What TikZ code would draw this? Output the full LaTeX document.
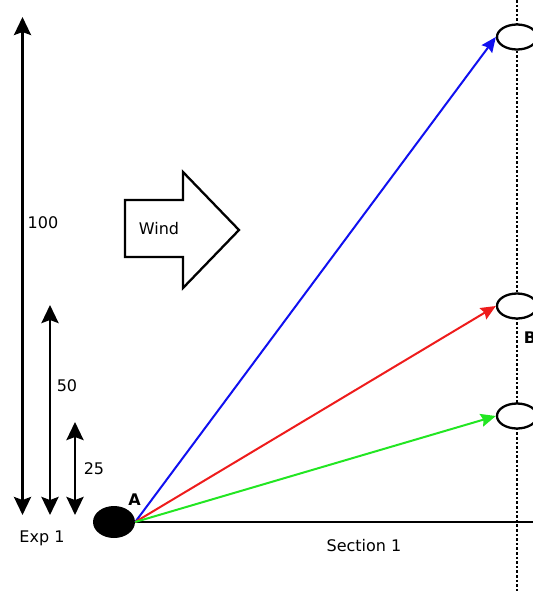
\documentclass[tikz,border=0pt]{standalone}
\usepackage{fontspec}
\setmainfont{DejaVu Sans}
\usetikzlibrary{arrows.meta,shapes.geometric,positioning}
\definecolor{ink}{HTML}{000000}
\definecolor{shotblue}{HTML}{1010F0}
\definecolor{shotred}{HTML}{EE1C1C}
\definecolor{shotgreen}{HTML}{22E622}
\tikzset{
  % ---- scale bars -------------------------------------------------
  bar/.style      = {draw=ink, line width=2.9pt,
                     {Stealth[length=18pt,width=17pt,inset=3pt]}-{Stealth[length=18pt,width=17pt,inset=3pt]}},
  lab/.style      = {font=\fontsize{16}{18}\selectfont, text=ink,
                     inner sep=0pt},
  % ---- points -----------------------------------------------------
  launch/.style   = {ellipse, fill=ink, inner sep=0pt,
                     minimum width=42pt, minimum height=32pt},
  target/.style   = {ellipse, draw=ink, fill=white, line width=2.3pt,
                     inner sep=0pt, minimum width=40pt, minimum height=25pt},
  ptlab/.style    = {lab, font=\fontsize{16}{18}\selectfont\bfseries},
  % ---- trajectories -----------------------------------------------
  shot/.style     = {line width=2pt,
                     -{Stealth[length=15pt,width=13pt,inset=2pt]}},
  section/.style  = {draw=ink, line width=2.3pt},
  marker/.style   = {draw=ink, line width=2.6pt, dotted},
  windbox/.style  = {draw=ink, line width=2.3pt, fill=white, line join=miter},
}
\begin{document}
\begin{tikzpicture}[x=1pt,y=-1pt]
  \useasboundingbox (0,0) rectangle (533,592);
  % section marker and baseline
  \coordinate (mtop) at (517,0);
  \coordinate (mbot) at (517,592);
  \draw[marker] (mtop) -- (mbot);
  \node[launch] (ptA) at (114,522) {};
  \coordinate (send) at (533,522);
  \draw[section] (ptA.east) -- (send);
  \node[lab] (sec) at (364,546) {Section 1};
  % targets
  \node[target] (tgt1) at (517,37) {};
  \node[target] (tgt2) at (517,306) {};
  \node[target] (tgt3) at (517,416) {};
  \node[ptlab] (labA) at (134.5,500) {A};
  \node[ptlab] (labB) at (530,338) {B};
  % trajectories
  \draw[shot, shotblue] (ptA.east) -- (tgt1.west);
  \draw[shot, shotred] (ptA.east) -- (tgt2.west);
  \draw[shot, shotgreen] (ptA.east) -- (tgt3.west);
  % scale bars
  \coordinate (b100t) at (22.5,17);
  \coordinate (b100b) at (22.5,515);
  \coordinate (b50t) at (50,305);
  \coordinate (b50b) at (50,515);
  \coordinate (b25t) at (75,422);
  \coordinate (b25b) at (75,515);
  \draw[bar] (b100b) -- (b100t);
  \draw[bar] (b50b) -- (b50t);
  \draw[bar] (b25b) -- (b25t);
  \node[lab] (l100) at (43,223) {100};
  \node[lab] (l50) at (67,386) {50};
  \node[lab] (l25) at (94,469) {25};
  \node[lab] (exp) at (42,538) {Exp 1};
  % wind
  \draw[windbox] (125,200) -- (183,200) -- (183,172) -- (239,230)
    -- (183,288) -- (183,257) -- (125,257) -- cycle;
  \node[lab] (wind) at (159,229) {Wind};
\end{tikzpicture}
\end{document}
